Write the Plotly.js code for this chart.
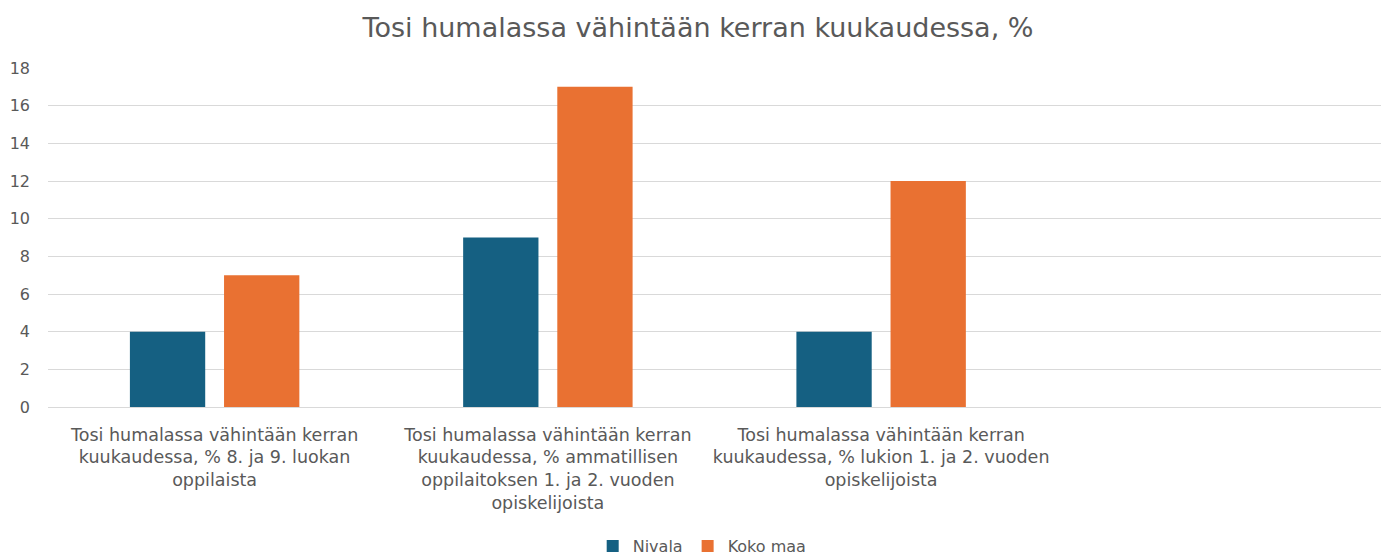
<!DOCTYPE html>
<html>
<head>
<meta charset="utf-8">
<script src="https://cdn.plot.ly/plotly-3.0.1.min.js"></script>
<style>html,body{margin:0;padding:0;background:#fff;}#chart{width:1385px;height:556px;}</style>
</head>
<body>
<div id="chart"></div>
<script>
const categories = [
  "Tosi humalassa vähintään kerran<br>kuukaudessa, % 8. ja 9. luokan<br>oppilaista",
  "Tosi humalassa vähintään kerran<br>kuukaudessa, % ammatillisen<br>oppilaitoksen 1. ja 2. vuoden<br>opiskelijoista",
  "Tosi humalassa vähintään kerran<br>kuukaudessa, % lukion 1. ja 2. vuoden<br>opiskelijoista"
];
const nivala = [4, 9, 4];
const kokoMaa = [7, 17, 12];
const yTicks = [0, 2, 4, 6, 8, 10, 12, 14, 16, 18];

const font = "'DejaVu Sans', 'Liberation Sans', sans-serif";
const traces = [
  {type: "bar", name: "Nivala", x: categories, y: nivala, marker: {color: "#156082"}, hoverinfo: "y"},
  {type: "bar", name: "Koko maa", x: categories, y: kokoMaa, marker: {color: "#E97132"}, hoverinfo: "y"}
];
const layout = {
  width: 1385, height: 556,
  margin: {l: 48, r: 4, t: 68, b: 149},
  paper_bgcolor: "#fff", plot_bgcolor: "#fff",
  font: {family: font, color: "#595959", size: 15},
  title: {text: "Tosi humalassa vähintään kerran kuukaudessa, %", font: {size: 27, color: "#595959", family: font}, x: 0.504, xanchor: "center", xref: "container", yref: "container", y: 0.95, yanchor: "middle"},
  barmode: "group", bargap: 0.435, bargroupgap: 0.2,
  xaxis: {type: "category", range: [-0.5, 3.5], showgrid: false, zeroline: false, showline: false, ticks: "", ticklabelstandoff: 15, tickfont: {size: 17.5, color: "#595959"}, automargin: false},
  yaxis: {range: [0, 18], tickvals: yTicks, showgrid: true, gridcolor: "#d9d9d9", gridwidth: 1, zeroline: true, zerolinecolor: "#d9d9d9", zerolinewidth: 1, showline: false, ticks: "", ticklabelstandoff: 17, tickfont: {size: 16, color: "#595959"}, automargin: false},
  showlegend: true,
  legend: {orientation: "h", x: 0.507, xref: "container", xanchor: "center", yref: "container", y: 0.018, yanchor: "middle", font: {size: 16, color: "#595959"}, itemwidth: 30, traceorder: "normal"}
};
Plotly.newPlot("chart", traces, layout, {displayModeBar: false, staticPlot: true});
</script>
</body>
</html>
